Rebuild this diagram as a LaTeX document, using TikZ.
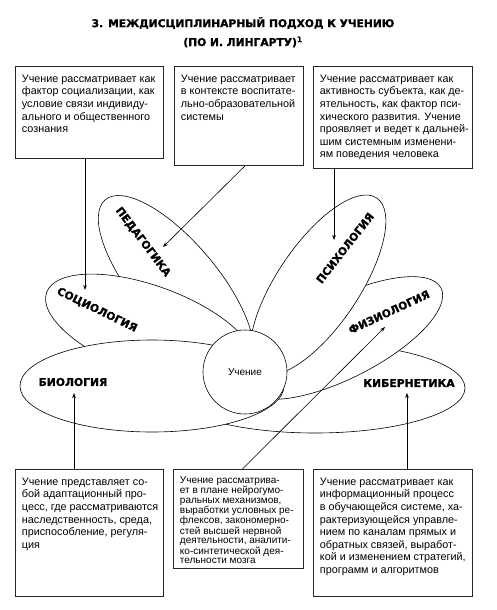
\documentclass[tikz,border=0pt]{standalone}
\usepackage{fontspec}
\setmainfont{Liberation Sans}
\newfontfamily\heavy{DejaVu Sans}[BoldFeatures={FakeBold=1.2}]
\usetikzlibrary{arrows.meta}
\newcommand\boxfont{\fontsize{10.8}{12.6}\selectfont}
\newcommand\mybox[7][\boxfont]{%
  \node[box] (#2) at (#3,#4) {\parbox[t][\dimexpr#6pt-14pt\relax][t]{\dimexpr#5pt-13pt\relax}{#1\begin{tabular}[t]{@{}l@{}}#7\end{tabular}}};}
\begin{document}
\begin{tikzpicture}[x=1pt,y=-1pt,
  petal/.style={draw, fill=white, line width=0.6pt},
  box/.style={draw=black!85, line width=0.9pt, inner xsep=6.5pt, inner ysep=7pt, anchor=north west},
  arr/.style={-{Stealth[length=5pt,width=3.6pt]}, line width=0.6pt},
  lab/.style={font=\heavy\bfseries\fontsize{10.8}{10.8}\selectfont, inner sep=0pt},
  ttl/.style={font=\heavy\bfseries\fontsize{10.7}{10.7}\selectfont, inner sep=0pt},
]
\useasboundingbox (0,0) rectangle (497,610);
% title
\node[ttl] (t1) at (243,23) {3. МЕЖДИСЦИПЛИНАРНЫЙ ПОДХОД К УЧЕНИЮ};
\node[ttl] (t2) at (243,42) {(ПО И. ЛИНГАРТУ)\textsuperscript{1}};
% boxes
\mybox{b1}{15}{66}{148}{92}{Учение рассматривает как\\ фактор социализации, как\\ условие связи индивиду-\\ ального и общественного\\ сознания}
\mybox{b2}{174}{66}{129}{99}{Учение рассматривает\\ в контексте воспитате-\\ льно-образовательной\\ системы}
\mybox{b3}{313}{66}{159}{102}{Учение рассматривает как\\ активность субъекта, как де-\\ ятельность, как фактор пси-\\ хического развития. Учение\\ проявляет и ведет к дальней-\\ шим системным изменени-\\ ям поведения человека}
\mybox{b4}{15}{469}{148}{127}{Учение представляет со-\\ бой адаптационный про-\\ цесс, где рассматриваются\\ наследственность, среда,\\ приспособление, регуля-\\ ция}
\mybox[\fontsize{10}{9.7}\selectfont]{b5}{173}{469}{130}{99}{Учение рассматрива-\\ ет в плане нейрогумо-\\ ральных механизмов,\\ выработки условных ре-\\ флексов, закономерно-\\ стей высшей нервной\\ деятельности, аналити-\\ ко-синтетической дея-\\ тельности мозга}
\mybox{b6}{313}{469}{159}{127}{Учение рассматривает как\\ информационный процесс\\ в обучающейся системе, ха-\\ рактеризующейся управле-\\ нием по каналам прямых и\\ обратных связей, выработ-\\ кой и изменением стратегий,\\ программ и алгоритмов}
% petals
\draw[petal] (315,388) ellipse [x radius=150pt, y radius=45pt];
\draw[petal, rotate around={27:(343,338)}] (343,338) ellipse [x radius=110pt, y radius=40pt];
\draw[petal, rotate around={56:(318,285)}] (318,285) ellipse [x radius=105pt, y radius=41pt];
\draw[petal, rotate around={-50:(176,284)}] (176,284) ellipse [x radius=110pt, y radius=42pt];
\draw[petal, rotate around={-20:(150,330)}] (150,330) ellipse [x radius=110pt, y radius=44pt];
\draw[petal] (152,386) ellipse [x radius=132pt, y radius=46pt];
\node[circle, draw, fill=white, line width=0.6pt, minimum size=84pt, inner sep=0pt, font=\fontsize{10}{10}\selectfont] (c) at (245,372) {Учение};
% labels
\node[lab, rotate=-53] (lPed) at (143,242) {ПЕДАГОГИКА};
\node[lab, rotate=-26] (lSoc) at (97,310) {СОЦИОЛОГИЯ};
\node[lab] (lBio) at (73,382) {БИОЛОГИЯ};
\node[lab, rotate=52] (lPsy) at (345,248) {ПСИХОЛОГИЯ};
\node[lab, rotate=25] (lFiz) at (389,312) {ФИЗИОЛОГИЯ};
\node[lab] (lKib) at (409,383) {КИБЕРНЕТИКА};
% connectors
\coordinate (tSoc) at (85,290);
\coordinate (tPed) at (163,247);
\coordinate (tPsy) at (334,240);
\coordinate (tBio) at (74,393);
\coordinate (tFiz) at (385,327);
\coordinate (tKib) at (407,393);
\draw[arr] (tSoc |- b1.south) -- (tSoc);
\draw[arr] ([xshift=6pt]b2.south) -- (tPed);
\draw[arr] (tPsy |- b3.south) -- (tPsy);
\draw[arr] (tBio |- b4.north) -- (tBio);
\draw[arr] ([xshift=4pt]b5.north) -- (tFiz);
\draw[arr] (tKib |- b6.north) -- (tKib);
\end{tikzpicture}
\end{document}
